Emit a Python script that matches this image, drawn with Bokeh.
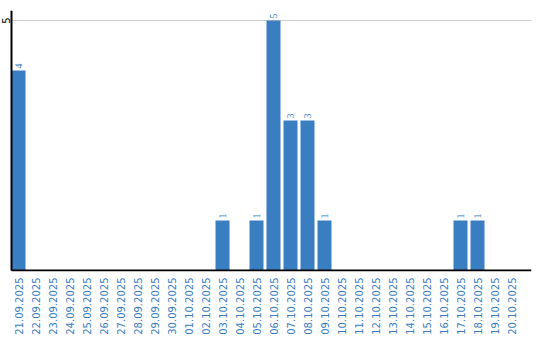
import math
from bokeh.plotting import figure
from bokeh.models import ColumnDataSource, FixedTicker, Range1d, LabelSet, Label
from bokeh.embed import file_html
from bokeh.resources import INLINE

dates = ["21.09.2025", "22.09.2025", "23.09.2025", "24.09.2025", "25.09.2025",
         "26.09.2025", "27.09.2025", "28.09.2025", "29.09.2025", "30.09.2025",
         "01.10.2025", "02.10.2025", "03.10.2025", "04.10.2025", "05.10.2025",
         "06.10.2025", "07.10.2025", "08.10.2025", "09.10.2025", "10.10.2025",
         "11.10.2025", "12.10.2025", "13.10.2025", "14.10.2025", "15.10.2025",
         "16.10.2025", "17.10.2025", "18.10.2025", "19.10.2025", "20.10.2025"]
counts = [4, 0, 0, 0, 0, 0, 0, 0, 0, 0,
          0, 0, 1, 0, 1, 5, 3, 3, 1, 0,
          0, 0, 0, 0, 0, 0, 1, 1, 0, 0]
y_ticks = [5]

BLUE = "#3a7ec2"
FONT = "DejaVu Sans"
STEP = 17.0                      # px per category
X_LEFT, X_RIGHT = -18 / STEP, 513 / STEP
X_AX = -7 / STEP                 # where the value axis sits
Y_BOT, Y_TOP = -0.02, 5.2

xs = list(range(len(dates)))
src = ColumnDataSource(dict(x=xs, y=counts))
lab_x = [x for x, c in zip(xs, counts) if c > 0]
lab_y = [c for c in counts if c > 0]
lab_src = ColumnDataSource(dict(x=lab_x, y=lab_y, t=[str(c) for c in lab_y]))

p = figure(width=540, height=340, output_backend="svg", toolbar_location=None,
           x_range=Range1d(X_LEFT, X_RIGHT), y_range=Range1d(Y_BOT, Y_TOP),
           min_border_left=0, min_border_right=9, min_border_top=10, min_border_bottom=69)
p.outline_line_color = None
p.background_fill_color = "white"
p.yaxis.visible = False
p.xgrid.grid_line_color = None
p.ygrid.grid_line_color = None

# gridlines at y ticks
for t in y_ticks:
    p.segment(x0=X_AX, y0=t, x1=X_RIGHT, y1=t, line_color="#cccccc", line_width=1)

p.vbar(x="x", top="y", bottom=0, width=14 / STEP, source=src, fill_color=BLUE, line_color=None)

labels = LabelSet(x="x", y="y", text="t", source=lab_src, angle=math.pi / 2,
                  text_align="left", text_baseline="middle", x_offset=0, y_offset=2,
                  text_font=FONT, text_font_size="10px", text_color=BLUE)
p.add_layout(labels)

# axis lines
p.segment(x0=X_AX, y0=0, x1=X_AX, y1=Y_TOP, line_color="black", line_width=2)
p.segment(x0=X_AX, y0=0, x1=X_RIGHT, y1=0, line_color="black", line_width=2)

# y tick labels
for t in y_ticks:
    p.add_layout(Label(x=-13 / STEP, y=t, text=str(t), angle=math.pi / 2,
                       text_align="center", text_baseline="middle",
                       text_font=FONT, text_font_size="10px", text_color="black"))

p.xaxis.ticker = FixedTicker(ticks=xs)
p.xaxis.major_label_overrides = {i: d for i, d in enumerate(dates)}
p.xaxis.major_label_orientation = math.pi / 2
p.xaxis.major_label_text_font = FONT
p.xaxis.major_label_text_font_size = "10px"
p.xaxis.major_label_text_color = BLUE
p.xaxis.major_tick_line_color = None
p.xaxis.minor_tick_line_color = None
p.xaxis.major_tick_out = 0
p.xaxis.major_tick_in = 0
p.xaxis.axis_line_color = None
p.xaxis.major_label_standoff = 6

open("out.html", "w").write(file_html(p, INLINE))
